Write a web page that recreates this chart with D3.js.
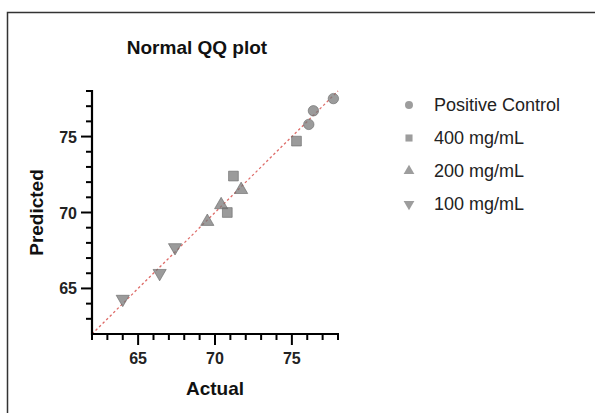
<!DOCTYPE html>
<html>
<head>
<meta charset="utf-8">
<script src="https://cdn.jsdelivr.net/npm/d3@7"></script>
<style>
body { margin: 0; background: #fff; }
svg { display: block; }
</style>
</head>
<body>
<svg id="chart" width="595" height="413"></svg>
<script>
var w = 595
var h = 413

// data
var groups = ["Positive Control", "400 mg/mL", "200 mg/mL", "100 mg/mL"]
var posActual = [77.7, 76.4, 76.1]
var posPredicted = [77.5, 76.7, 75.8]
var mg400Actual = [75.3, 71.2, 70.8]
var mg400Predicted = [74.7, 72.4, 70.0]
var mg200Actual = [71.7, 70.4, 69.5]
var mg200Predicted = [71.5, 70.5, 69.4]
var mg100Actual = [67.4, 66.4, 64.0]
var mg100Predicted = [67.7, 66.0, 64.3]
var xTicks = [65, 70, 75]
var yTicks = [65, 70, 75]
var domain = [62, 78]

var symbols = [d3.symbolCircle, d3.symbolSquare, d3.symbolTriangle, "down"]
var seriesX = [posActual, mg400Actual, mg200Actual, mg100Actual]
var seriesY = [posPredicted, mg400Predicted, mg200Predicted, mg100Predicted]

var points = []
groups.forEach(function(g, gi) {
	seriesX[gi].forEach(function(v, i) {
		points.push({group: gi, x: v, y: seriesY[gi][i]})
	})
})

var svg = d3.select("#chart")
var fontFam = "Arial, 'Liberation Sans', sans-serif"

// frame
svg.append("path")
	.attr("d", "M7.5," + h + "V12.5H" + w)
	.attr("fill", "none")
	.attr("stroke", "#333")
	.attr("stroke-width", 1.5)

var pLeft = 92, pRight = 338, pTop = 91, pBottom = 334

var x = d3.scaleLinear().domain(domain).range([pLeft, pRight])
var y = d3.scaleLinear().domain(domain).range([pBottom, pTop])

function symPath(s, size) {
	if (s === "down") {
		return d3.symbol().type(d3.symbolTriangle).size(size)()
	}
	return d3.symbol().type(s).size(size)()
}

// identity line
svg.append("line")
	.attr("x1", x(domain[0]))
	.attr("y1", y(domain[0]))
	.attr("x2", x(domain[1]))
	.attr("y2", y(domain[1]))
	.attr("stroke", "#d9534f")
	.attr("stroke-width", 1.3)
	.attr("stroke-dasharray", "2.5,2.5")
	.attr("opacity", 0.85)

// points
svg.selectAll(".pt")
	.data(points)
	.enter()
	.append("path")
	.attr("class", "pt")
	.attr("d", function(d) { return symPath(symbols[d.group], d.group === 0 ? 85 : d.group === 1 ? 95 : 75) })
	.attr("transform", function(d) {
		var t = "translate(" + x(d.x) + "," + y(d.y) + ")"
		if (symbols[d.group] === "down") t += " rotate(180)"
		return t
	})
	.attr("fill", "#7a7a7a")
	.attr("fill-opacity", 0.75)
	.attr("stroke", "#666")
	.attr("stroke-opacity", 0.6)
	.attr("stroke-width", 1)

// axes
var xMinor = d3.range(62, 79)
var yMinor = d3.range(62, 79)

var xAxis = svg.append("g").attr("transform", "translate(0," + pBottom + ")")
xAxis.append("line")
	.attr("x1", pLeft - 1).attr("x2", pRight + 1)
	.attr("stroke", "#000").attr("stroke-width", 2.2)
xAxis.selectAll(".tk")
	.data(xMinor)
	.enter()
	.append("line")
	.attr("x1", function(d) { return x(d) })
	.attr("x2", function(d) { return x(d) })
	.attr("y1", 0)
	.attr("y2", function(d) { return xTicks.indexOf(d) >= 0 ? 11 : 6 })
	.attr("stroke", "#000").attr("stroke-width", 2)
xAxis.selectAll(".lbl")
	.data(xTicks)
	.enter()
	.append("text")
	.text(function(d) { return d })
	.attr("x", function(d) { return x(d) })
	.attr("y", 30)
	.attr("text-anchor", "middle")
	.attr("font-family", fontFam)
	.attr("font-weight", "bold")
	.attr("font-size", "16px")
	.attr("fill", "#222")

var yAxis = svg.append("g").attr("transform", "translate(" + pLeft + ",0)")
yAxis.append("line")
	.attr("y1", pTop - 1).attr("y2", pBottom + 1)
	.attr("stroke", "#000").attr("stroke-width", 2.2)
yAxis.selectAll(".tk")
	.data(yMinor.filter(function(d) { return d > 62 }))
	.enter()
	.append("line")
	.attr("y1", function(d) { return y(d) })
	.attr("y2", function(d) { return y(d) })
	.attr("x1", 0)
	.attr("x2", function(d) { return yTicks.indexOf(d) >= 0 ? -11 : -6 })
	.attr("stroke", "#000").attr("stroke-width", 2)
yAxis.selectAll(".lbl")
	.data(yTicks)
	.enter()
	.append("text")
	.text(function(d) { return d })
	.attr("x", -15)
	.attr("y", function(d) { return y(d) + 6 })
	.attr("text-anchor", "end")
	.attr("font-family", fontFam)
	.attr("font-weight", "bold")
	.attr("font-size", "16px")
	.attr("fill", "#222")

// titles
svg.append("text")
	.text("Normal QQ plot")
	.attr("x", 197)
	.attr("y", 54)
	.attr("text-anchor", "middle")
	.attr("font-family", fontFam)
	.attr("font-weight", "bold")
	.attr("font-size", "19px")
	.attr("fill", "#111")

svg.append("text")
	.text("Actual")
	.attr("x", (pLeft + pRight) / 2)
	.attr("y", 395)
	.attr("text-anchor", "middle")
	.attr("font-family", fontFam)
	.attr("font-weight", "bold")
	.attr("font-size", "19px")
	.attr("fill", "#111")

svg.append("text")
	.text("Predicted")
	.attr("transform", "translate(43," + ((pTop + pBottom) / 2) + ") rotate(-90)")
	.attr("text-anchor", "middle")
	.attr("font-family", fontFam)
	.attr("font-weight", "bold")
	.attr("font-size", "19px")
	.attr("fill", "#111")

// legend
var legend = svg.selectAll(".leg")
	.data(groups)
	.enter()
	.append("g")
	.attr("class", "leg")
	.attr("transform", function(d, i) { return "translate(409," + (105 + i * 33) + ")" })

legend.append("path")
	.attr("d", function(d, i) { return symPath(symbols[i], 50) })
	.attr("transform", function(d, i) { return symbols[i] === "down" ? "rotate(180)" : null })
	.attr("fill", "#8c8c8c")
	.attr("fill-opacity", 0.85)

legend.append("text")
	.text(function(d) { return d })
	.attr("x", 25)
	.attr("y", 6)
	.attr("font-family", fontFam)
	.attr("font-size", "18px")
	.attr("fill", "#222")
</script>
</body>
</html>
